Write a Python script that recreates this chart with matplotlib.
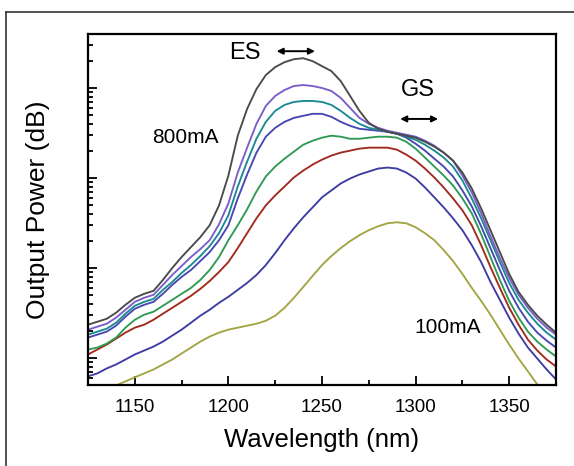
import numpy as np
import matplotlib
matplotlib.use("Agg")
import matplotlib.pyplot as plt
from matplotlib.lines import Line2D
from matplotlib.ticker import LogLocator, NullFormatter, MultipleLocator

plt.rcParams['font.family'] = ['Liberation Sans', 'DejaVu Sans']

# Wavelength grid (nm), 1125 ... 1375 in 5 nm steps
wavelength = list(range(1125, 1376, 5))

# Output power in dB, one series per drive current
p800 = [3.70, 4.03, 4.36, 5.03, 5.91, 6.69, 7.13, 7.46, 8.67, 10.00, 11.22, 12.32, 13.43,
        14.75, 16.96, 20.28, 24.70, 27.68, 29.89, 31.44, 32.32, 32.87, 33.20, 33.31, 32.98,
        32.43, 31.88, 30.77, 29.12, 27.46, 26.13, 25.47, 25.14, 24.92, 24.70, 24.48, 24.03,
        23.48, 22.82, 21.93, 20.61, 18.84, 16.63, 14.20, 11.77, 9.34, 7.35, 5.91, 4.70,
        3.70, 2.82]
p700 = [3.15, 3.48, 3.81, 4.48, 5.36, 6.24, 6.69, 7.02, 8.12, 9.23, 10.22, 11.22, 12.10,
        13.09, 14.86, 17.18, 20.61, 23.37, 26.02, 28.01, 29.12, 29.78, 30.22, 30.33, 30.22,
        30.00, 29.67, 28.90, 27.79, 26.68, 26.02, 25.58, 25.25, 25.03, 24.81, 24.59, 24.14,
        23.59, 22.82, 21.93, 20.28, 18.40, 16.08, 13.54, 11.11, 8.90, 7.02, 5.58, 4.36,
        3.37, 2.60]
p600 = [2.60, 2.93, 3.26, 3.92, 4.92, 5.80, 6.24, 6.57, 7.57, 8.45, 9.45, 10.33, 11.33,
        12.43, 13.87, 15.86, 19.06, 21.82, 24.37, 26.24, 27.46, 28.12, 28.45, 28.56, 28.56,
        28.45, 28.12, 27.46, 26.68, 26.02, 25.58, 25.36, 25.14, 24.92, 24.59, 24.25, 23.70,
        23.04, 22.27, 21.27, 19.72, 17.73, 15.52, 13.09, 10.66, 8.34, 6.46, 5.03, 3.81,
        2.82, 2.04]
p500 = [2.27, 2.60, 2.93, 3.59, 4.59, 5.47, 5.91, 6.24, 7.13, 8.12, 9.01, 9.78, 10.77,
        11.77, 13.09, 14.75, 17.73, 20.39, 22.82, 24.59, 25.58, 26.24, 26.68, 26.91, 27.13,
        27.13, 26.80, 26.24, 25.80, 25.47, 25.36, 25.25, 25.14, 24.92, 24.48, 23.81, 23.04,
        22.15, 21.27, 20.17, 18.62, 16.85, 14.64, 12.21, 9.78, 7.46, 5.58, 4.03, 2.82,
        1.93, 1.16]
p400 = [0.94, 1.16, 1.60, 2.27, 3.37, 4.25, 4.81, 5.14, 5.80, 6.46, 7.13, 7.79, 8.67,
        9.78, 11.22, 13.09, 14.75, 16.52, 18.51, 20.17, 21.27, 22.15, 22.93, 23.70, 24.14,
        24.48, 24.70, 24.59, 24.36, 24.36, 24.48, 24.59, 24.59, 24.48, 24.03, 23.26, 22.27,
        21.27, 20.28, 19.17, 17.73, 16.08, 13.76, 11.22, 8.67, 6.35, 4.48, 2.93, 1.82,
        0.94, 0.17]
p300 = [0.39, 0.94, 1.49, 2.15, 2.82, 3.37, 3.70, 4.25, 4.92, 5.58, 6.24, 6.91, 7.68,
        8.56, 9.56, 10.66, 12.21, 13.87, 15.52, 16.96, 18.07, 19.06, 20.06, 20.83, 21.49,
        22.04, 22.49, 22.82, 23.04, 23.26, 23.37, 23.37, 23.37, 23.15, 22.60, 21.93, 21.05,
        20.06, 18.95, 17.73, 16.41, 14.75, 12.54, 10.11, 7.79, 5.58, 3.70, 2.04, 0.83,
        -0.17, -0.94]
p200 = [-2.04, -1.71, -1.16, -0.72, -0.17, 0.39, 0.83, 1.27, 1.82, 2.49, 3.15, 3.92, 4.70,
        5.36, 6.13, 6.80, 7.57, 8.34, 9.23, 10.33, 11.66, 13.09, 14.42, 15.64, 16.74,
        17.85, 18.62, 19.39, 19.94, 20.39, 20.72, 21.05, 21.16, 21.05, 20.61, 19.94, 18.95,
        17.85, 16.74, 15.52, 14.20, 12.54, 10.66, 8.45, 6.46, 4.48, 2.71, 1.16, -0.06,
        -1.27, -2.38]
p100 = [-4.36, -3.92, -3.48, -3.04, -2.60, -2.15, -1.71, -1.27, -0.72, -0.17, 0.50, 1.16,
        1.82, 2.38, 2.82, 3.15, 3.37, 3.59, 3.81, 4.14, 4.70, 5.58, 6.69, 7.90, 9.12, 10.33,
        11.33, 12.21, 12.98, 13.65, 14.20, 14.64, 14.97, 15.08, 14.97, 14.53, 13.87, 13.09,
        11.99, 10.77, 9.34, 7.79, 6.35, 4.81, 3.15, 1.49, -0.06, -1.49, -2.93, -4.36, -5.47]

series = [p100, p200, p300, p400, p500, p600, p700, p800]
colors = ['#a3a443', '#3c3ca2', '#a2291d', '#2e9a52', '#4747b4', '#1b8a90', '#7b5dca', '#4a4a4a']

fig = plt.figure(figsize=(5.74, 4.66), dpi=100)
ax = fig.add_axes([88/574, 1-385/466, 468/574, 351/466])

wl = np.array(wavelength)
for s, c in zip(series, colors):
    ax.plot(wl, 10 ** (np.array(s) / 10.0), color=c, lw=1.35,
            solid_capstyle='round', solid_joinstyle='round')

ax.set_yscale('log')
ax.set_xlim(1125, 1375)
ax.set_ylim(10 ** -0.3, 10 ** 3.6)
ax.xaxis.set_major_locator(MultipleLocator(50))
ax.xaxis.set_minor_locator(MultipleLocator(25))
ax.yaxis.set_major_locator(LogLocator(base=10, numticks=20))
ax.yaxis.set_minor_locator(LogLocator(base=10, subs=np.arange(2, 10), numticks=20))
ax.yaxis.set_major_formatter(NullFormatter())
ax.yaxis.set_minor_formatter(NullFormatter())
ax.tick_params(axis='both', which='both', direction='in', top=False, right=False, width=1.3)
ax.tick_params(axis='both', which='major', length=6.2)
ax.tick_params(axis='both', which='minor', length=3.4)
ax.tick_params(axis='x', labelsize=13.5, pad=10)
for sp in ax.spines.values():
    sp.set_linewidth(1.6)

ax.set_xlabel('Wavelength (nm)', fontsize=18.5, labelpad=9)
ax.set_ylabel('Output Power (dB)', fontsize=19, labelpad=24)

ax.text(0.336, 0.947, 'ES', transform=ax.transAxes, fontsize=17, ha='center', va='center')
ax.text(0.705, 0.84, 'GS', transform=ax.transAxes, fontsize=17, ha='center', va='center')
ax.annotate('', xy=(0.485, 0.951), xytext=(0.403, 0.951), xycoords='axes fraction',
            arrowprops=dict(arrowstyle='<|-|>', color='black', lw=1.4,
                            mutation_scale=9, shrinkA=0, shrinkB=0))
ax.annotate('', xy=(0.748, 0.758), xytext=(0.667, 0.758), xycoords='axes fraction',
            arrowprops=dict(arrowstyle='<|-|>', color='black', lw=1.4,
                            mutation_scale=9, shrinkA=0, shrinkB=0))
ax.text(0.209, 0.704, '800mA', transform=ax.transAxes, fontsize=15, ha='center', va='center')
ax.text(0.769, 0.165, '100mA', transform=ax.transAxes, fontsize=15, ha='center', va='center')

# outer frame of the figure panel
fig.add_artist(Line2D([6/574, 1], [1-12/466, 1-12/466], transform=fig.transFigure,
                      color='#333333', lw=1.2))
fig.add_artist(Line2D([6/574, 6/574], [1-12/466, 0], transform=fig.transFigure,
                      color='#333333', lw=1.2))

fig.savefig('out.png', dpi=100)
